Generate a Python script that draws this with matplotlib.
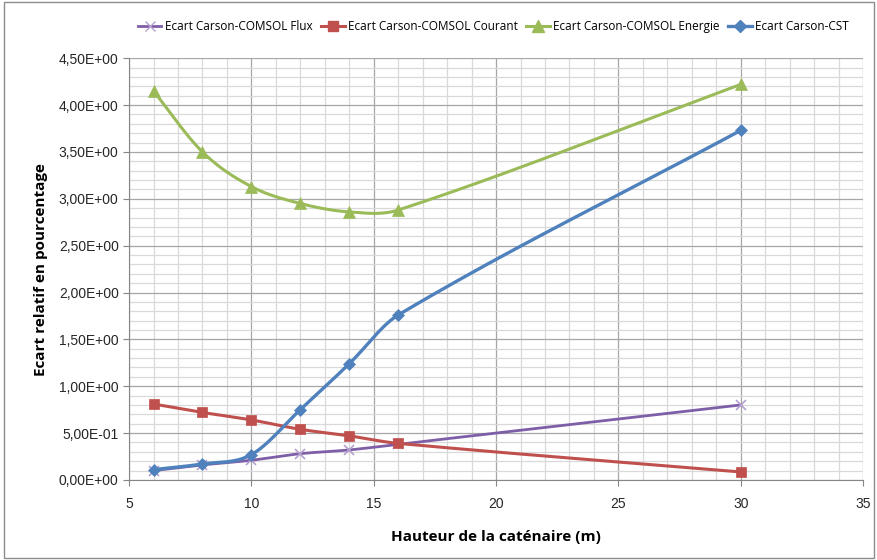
import matplotlib.pyplot as plt
import numpy as np
from matplotlib.patches import Rectangle
from matplotlib.ticker import MultipleLocator

# =========================
# DATA
# =========================
hauteur = [6, 8, 10, 12, 14, 16, 30]
ecart_flux = [0.10, 0.16, 0.21, 0.28, 0.32, 0.38, 0.80]
ecart_courant = [0.81, 0.72, 0.64, 0.54, 0.47, 0.39, 0.085]
ecart_energie = [4.15, 3.50, 3.13, 2.95, 2.86, 2.88, 4.22]
ecart_cst = [0.11, 0.17, 0.27, 0.75, 1.24, 1.76, 3.73]

series_names = ["Ecart Carson-COMSOL Flux", "Ecart Carson-COMSOL Courant",
                "Ecart Carson-COMSOL Energie", "Ecart Carson-CST"]

x_ticks = [5, 10, 15, 20, 25, 30, 35]
y_ticks = [0, 0.5, 1.0, 1.5, 2.0, 2.5, 3.0, 3.5, 4.0, 4.5]
y_tick_labels = ["0,00E+00", "5,00E-01", "1,00E+00", "1,50E+00", "2,00E+00",
                 "2,50E+00", "3,00E+00", "3,50E+00", "4,00E+00", "4,50E+00"]


def smooth(x, y, n=40):
    # smoothed line through the points (cubic Hermite, tangents from neighbours)
    x = np.asarray(x, float)
    y = np.asarray(y, float)
    m = np.zeros_like(y)
    m[1:-1] = (y[2:] - y[:-2]) / (x[2:] - x[:-2])
    m[0] = (y[1] - y[0]) / (x[1] - x[0])
    m[-1] = (y[-1] - y[-2]) / (x[-1] - x[-2])
    xs, ys = [], []
    for i in range(len(x) - 1):
        h = x[i + 1] - x[i]
        t = np.linspace(0, 1, n)
        h00 = 2 * t ** 3 - 3 * t ** 2 + 1
        h10 = t ** 3 - 2 * t ** 2 + t
        h01 = -2 * t ** 3 + 3 * t ** 2
        h11 = t ** 3 - t ** 2
        xs.extend(x[i] + t * h)
        ys.extend(h00 * y[i] + h10 * h * m[i] + h01 * y[i + 1] + h11 * h * m[i + 1])
    return xs, ys


fig = plt.figure(figsize=(8.78, 5.6), dpi=100)
fig.patches.append(Rectangle((0.004, 0.004), 0.992, 0.992, transform=fig.transFigure,
                             fill=False, edgecolor="#8c8c8c", linewidth=1))
ax = fig.add_axes([0.147, 0.143, 0.836, 0.753])

styles = [
    (ecart_flux, "#7f5ea8", "x", 7, 2.0),
    (ecart_courant, "#c0504d", "s", 7, 2.2),
    (ecart_energie, "#9bbb59", "^", 8, 2.2),
    (ecart_cst, "#4f81bd", "D", 6, 2.4),
]

handles = []
for (vals, col, mk, ms, lw), name in zip(styles, series_names):
    sx, sy = smooth(hauteur, vals)
    ax.plot(sx, sy, color=col, linewidth=lw, zorder=3)
    mec = "#b4a0d0" if mk == "x" else col
    ax.plot(hauteur, vals, linestyle="none", marker=mk, markersize=ms,
            color=col, markeredgecolor=mec, markeredgewidth=1.2 if mk == "x" else 0.5, zorder=4)
    h, = ax.plot([], [], color=col, linewidth=lw, marker=mk, markersize=ms,
                 markeredgecolor=mec, label=name)
    handles.append(h)

ax.set_xlim(5, 35)
ax.set_ylim(0, 4.5)
ax.set_xticks(x_ticks)
ax.set_yticks(y_ticks)
ax.set_yticklabels(y_tick_labels)
ax.xaxis.set_minor_locator(MultipleLocator(1))
ax.yaxis.set_minor_locator(MultipleLocator(0.1))
ax.grid(which="major", color="#a6a6a6", linewidth=0.9, zorder=0)
ax.grid(which="minor", color="#d9d9d9", linewidth=0.9, zorder=0)
ax.set_axisbelow(True)
ax.tick_params(which="major", length=4, color="#868686", labelsize=10,
               labelcolor="#262626", direction="out")
ax.tick_params(axis="x", pad=8)
ax.tick_params(which="minor", length=0)
for sp in ["top", "right"]:
    ax.spines[sp].set_visible(False)
for sp in ["left", "bottom"]:
    ax.spines[sp].set_color("#868686")

for lbl in ax.get_xticklabels() + ax.get_yticklabels():
    lbl.set_family("Liberation Sans")

ax.set_xlabel("Hauteur de la caténaire (m)", fontsize=11, fontweight="bold",
              family="Open Sans", labelpad=14)
ax.set_ylabel("Ecart relatif en pourcentage", fontsize=11, fontweight="bold",
              family="Open Sans", labelpad=8)

fig.legend(handles=handles, loc="center", bbox_to_anchor=(0.562, 0.952), ncol=4,
           frameon=False, handlelength=2.0, handletextpad=0.3,
           columnspacing=0.7, prop={"family": "Open Sans", "size": 8.5})

fig.savefig("out.png", dpi=100)
